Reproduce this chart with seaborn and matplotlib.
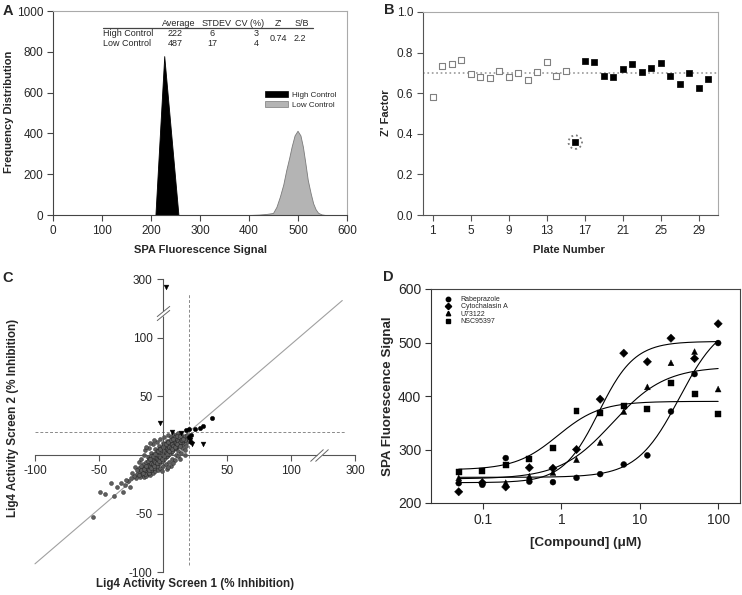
"""
Four-panel assay summary: control distributions, Z' per plate,
screen-vs-screen replicate scatter, and dose-response curves.
"""
import matplotlib
matplotlib.use("Agg")
import matplotlib.pyplot as plt
from matplotlib.lines import Line2D
from matplotlib.patches import Patch
from matplotlib.path import Path
import numpy as np
import pandas as pd
import seaborn as sns

W, H = 742, 595

# ---------------------------------------------------------------------------
# A: frequency distribution of the controls (outline)
HIGH_X = [209, 227, 256]
HIGH_Y = [0, 779, 0]
LOW_X = [400, 420, 435, 449, 456, 463, 470, 476, 482, 487, 493, 499,
         505, 510, 515, 520, 526, 531, 536, 541, 548, 556]
LOW_Y = [0, 2, 5, 10, 40, 90, 150, 220, 280, 335, 390, 413,
         390, 335, 255, 171, 105, 57, 28, 11, 3, 0]
TABLE_HEAD = ["Average", "STDEV", "CV (%)", "Z'", "S/B"]
TABLE_ROWS = [["High Control", "222", "6", "3"],
              ["Low Control", "487", "17", "4"]]
TABLE_SHARED = ["0.74", "2.2"]

# B: Z' factor per plate
PLATES_OPEN = list(range(1, 16))
Z_OPEN = [0.582, 0.736, 0.744, 0.764, 0.697, 0.682, 0.677, 0.710,
          0.682, 0.700, 0.667, 0.703, 0.752, 0.684, 0.710]
PLATES_FILL = list(range(16, 31))
Z_FILL = [0.359, 0.761, 0.752, 0.687, 0.682, 0.721, 0.743, 0.705,
          0.723, 0.749, 0.687, 0.644, 0.700, 0.625, 0.670]
Z_MEAN = 0.70
Z_OUTLIER_PLATE = 16

# C: screen 1 vs screen 2 (% inhibition), cloud of inactive compounds
CLOUD_X = [-20, -18, -17, -16, -15, -14, -13, -12, -12, -11, -10, -10, -9, -8, -8,
           -7, -6, -6, -5, -4, -4, -3, -2, -2, -1, 0, 0, 1, 2, 2, 3, 4, 4, 5, 6,
           6, 7, 8, 8, 9, 10, 10, 11, 12, 13, 14, 15, 16, 17, 18,
           -22, -19, -17, -15, -14, -12, -11, -9, -8, -6, -5, -3, -2, 0, 1, 3,
           4, 6, 8, 10, 12, 14, -13, -10, -7,
           -21, -18, -15, -13, -10, -8, -6, -4, -2, 0, 2, 3, 5, 6, 7, 9, 10, 12,
           12, 14, 15, 17, 16, 18, 19, 20, 19, -1, 4, 8, 13, 17,
           -16, -13, -11, -9, -7, -5, -3, -1, 1, 3, 5, 7, 9, 11, 13,
           -14, -11, -9, -7, -5, -3, -1, 1, 3, 5, 7, 9, 11, 13, 15, 17, -19, -17, -20,
           -19, -17, -16, -14, -13, -12, -11, -10, -9, -8, -7, -6, -5, -4, -3, -2,
           -1, 0, 1, 2, 3, 4, 5, 6, 7, 8, 9, 10, 11, 12, 13, 14, 15, 16,
           -15, -13, -11, -9, -7, -5, -3, -1, 1, 3, 5, 7, 9, 11, 13,
           -12, -10, -8, -6, -4, -2, 0, 2, 4, 6, 8,
           -23, -25, -24, -27, -29, -30, -33, -36, -41, -45, -49, -31, -55, -38, -26]
CLOUD_Y = [-16, -14, -17, -12, -15, -10, -13, -16, -8, -11, -6, -14, -9, -4, -12,
           -7, -2, -10, -5, 0, -8, -3, 2, -6, -1, 4, -4, 1, 6, -2, 3, 8, 0, 5, 10,
           2, 7, 12, 4, 9, 14, 6, 11, 8, 13, 10, 15, 12, 16, 14,
           -10, -6, -3, 0, 4, -2, 6, 2, 9, 5, 11, 8, 14, 10, 15, 12,
           17, 15, 18, 17, 19, 18, 7, 10, 13,
           -20, -19, -19, -18, -17, -15, -14, -13, -11, -9, -8, -12, -6, -9, -3, -4, 0, -1,
           3, 2, 6, 4, 9, 8, 11, 13, 17, -14, -10, -7, -3, 0,
           -8, -6, -3, -1, 1, 3, 5, 7, 9, 10, 12, 14, 15, 16, 16,
           -16, -15, -13, -11, -9, -7, -5, -3, -1, 1, 3, 6, 8, 10, 11, 13, -11, -9, -13,
           -17, -13, -15, -13, -11, -12, -9, -10, -7, -8, -5, -6, -3, -4, -1, -2,
           1, 0, 3, 2, 5, 4, 7, 6, 9, 8, 11, 10, 13, 12, 11, 13, 13, 14,
           -12, -9, -13, -11, -9, -7, -5, -3, -1, 1, 3, 5, 7, 9, 8,
           -5, -3, -1, 1, 3, 5, 7, 9, 11, 13, 14,
           -18, -20, -15, -22, -21, -26, -24, -27, -24, -33, -32, -32, -53, -35, -27]
HIT_TRI_X = [-2, 7, 14, 21, 23, 31, 2]
HIT_TRI_Y = [27, 20, 19, 13, 9, 9, 260]
HIT_DOT_X = [18, 20, 22, 25, 29, 31, 38, 20, 22]
HIT_DOT_Y = [21, 22, 17, 22, 23, 25, 32, 15, 11]
HIT_CUTOFF = 20
C_TICKS = [-100, -50, 50, 100, 300]
DIAG_X = [-100, 240]
DIAG_Y = [-93, 192]
GUIDE_END = [252, 228]          # far ends of the horizontal / vertical cutoff lines

# D: dose response (uM) and four-parameter fits (bottom, top, EC50, hill)
CONC = [0.049, 0.098, 0.195, 0.39, 0.78, 1.56, 3.125, 6.25, 12.5, 25, 50, 100]
COMPOUNDS = ["Rabeprazole", "Cytochalasin A", "U73122", "NSC95397"]
RABEPRAZOLE = [237, 234, 284, 240, 239, 247, 254, 272, 289, 371, 441, 499]
CYTOCHALASIN = [221, 238, 230, 266, 265, 300, 394, 480, 464, 508, 470, 535]
U73122 = [247, 240, 238, 250, 257, 281, 313, 371, 417, 462, 483, 413]
NSC95397 = [258, 260, 271, 282, 302, 372, 369, 382, 376, 424, 403, 366]
MARKERS = ["o", "D", "^", "s"]
FITS = [(248, 545, 32, 1.6), (238, 502, 3.0, 1.9),
        (245, 455, 4.5, 1.3), (262, 390, 0.9, 1.6)]

# ---------------------------------------------------------------------------
BOX_A = (53, 11, 347, 215)
BOX_B = (423, 12, 718, 215)
BOX_C = (25, 270, 365, 585)
BOX_D = (431, 289, 740, 503)


def axes_at(fig, box):
    l, t, r, b = box
    return fig.add_axes([l / W, 1 - b / H, (r - l) / W, (b - t) / H])


def px_to_ax(box, px, py):
    l, t, r, b = box
    return (px - l) / (r - l), (b - py) / (b - t)


def place_labels(ax, box, xlab, ylab, xpos, ypos, size):
    ax.set_xlabel(xlab, fontsize=size, fontweight="bold", va="center")
    ax.set_ylabel(ylab, fontsize=size, fontweight="bold", va="center")
    ax.xaxis.set_label_coords(*px_to_ax(box, *xpos))
    ax.yaxis.set_label_coords(*px_to_ax(box, *ypos))


def style_spines(ax, main="#444444", frame="#aaaaaa"):
    for side in ("left", "bottom"):
        ax.spines[side].set_color(main)
        ax.spines[side].set_linewidth(0.8)
    for side in ("top", "right"):
        ax.spines[side].set_visible(True)
        ax.spines[side].set_color(frame)
        ax.spines[side].set_linewidth(0.8)
    ax.tick_params(direction="out", length=4, width=0.8, color=main, pad=3)


sns.set_theme(style="ticks")
plt.rcParams["font.family"] = ["Liberation Sans", "DejaVu Sans"]
plt.rcParams["axes.unicode_minus"] = False

fig = plt.figure(figsize=(W / 100, H / 100), dpi=100)

# ---------------------------------------------------------------- panel A
ax = axes_at(fig, BOX_A)
ax.fill_between(HIGH_X, HIGH_Y, color="black", lw=0.6, label="High Control")
ax.fill_between(LOW_X, LOW_Y, color="#b4b4b4", edgecolor="#7a7a7a", lw=0.6,
                label="Low Control")
ax.set_xlim(0, 600)
ax.set_ylim(0, 1000)
ax.set_xticks(range(0, 601, 100))
ax.set_yticks(range(0, 1001, 200))
ax.tick_params(labelsize=8.5)
style_spines(ax)
place_labels(ax, BOX_A, "SPA Fluorescence Signal", "Frequency Distribution",
             (200, 250), (9, 112), 8)
ax.legend(handles=[Patch(facecolor="black", edgecolor="black", lw=0.5, label="High Control"),
                   Patch(facecolor="#b4b4b4", edgecolor="#7a7a7a", lw=0.5, label="Low Control")],
          loc="upper left", bbox_to_anchor=px_to_ax(BOX_A, 265, 91), frameon=False,
          fontsize=5.8, handlelength=2.8, handleheight=0.8, labelspacing=0.3,
          handletextpad=0.5, borderpad=0, borderaxespad=0)

# the little statistics table
head_x = [179, 217, 250, 278, 302]
for txt, px in zip(TABLE_HEAD, head_x):
    ax.text(*px_to_ax(BOX_A, px, 23), txt, transform=ax.transAxes,
            ha="center", va="center", fontsize=6.5)
ax.plot([px_to_ax(BOX_A, 103, 0)[0], px_to_ax(BOX_A, 313, 0)[0]],
        [px_to_ax(BOX_A, 0, 27.5)[1]] * 2, transform=ax.transAxes,
        color="#444444", lw=0.9, clip_on=False)
row_x = [175, 212, 256]
for row, py in zip(TABLE_ROWS, [34, 43]):
    ax.text(*px_to_ax(BOX_A, 103, py), row[0], transform=ax.transAxes,
            ha="left", va="center", fontsize=6.5)
    for txt, px in zip(row[1:], row_x):
        ax.text(*px_to_ax(BOX_A, px, py), txt, transform=ax.transAxes,
                ha="center", va="center", fontsize=6.5)
for txt, px in zip(TABLE_SHARED, [278, 300]):
    ax.text(*px_to_ax(BOX_A, px, 38.5), txt, transform=ax.transAxes,
            ha="center", va="center", fontsize=6.5)

# ---------------------------------------------------------------- panel B
ax = axes_at(fig, BOX_B)
ax.axhline(Z_MEAN, color="#9a9a9a", lw=1.2, ls=":", zorder=1)
sns.scatterplot(x=PLATES_OPEN, y=Z_OPEN, marker="s", s=20, facecolor="white",
                edgecolor="#808080", linewidth=0.8, ax=ax, zorder=3)
sns.scatterplot(x=PLATES_FILL, y=Z_FILL, marker="s", s=20, color="black",
                edgecolor="black", linewidth=0.5, ax=ax, zorder=3)
ax.scatter([Z_OUTLIER_PLATE], [Z_FILL[PLATES_FILL.index(Z_OUTLIER_PLATE)]], s=95,
           facecolors="none", edgecolors="#7a7a7a", linewidths=1.3,
           linestyles=(0, (1, 1.6)), zorder=2)
ax.set_xlim(0, 31)
ax.set_ylim(0, 1.0)
ax.set_xticks(range(1, 31, 4))
ax.set_yticks(np.arange(0, 1.01, 0.2))
ax.tick_params(labelsize=8.5)
style_spines(ax, main="#555555")
place_labels(ax, BOX_B, "Plate Number", "Z' Factor", (569, 250), (386, 113), 8)

# ---------------------------------------------------------------- panel C
BREAK_AT, SQUEEZE = 120, 0.167


def fwd(v):
    v = np.asarray(v, dtype=float)
    return np.where(v > BREAK_AT, BREAK_AT + (v - BREAK_AT) * SQUEEZE, v)


def inv(v):
    v = np.asarray(v, dtype=float)
    return np.where(v > BREAK_AT, BREAK_AT + (v - BREAK_AT) / SQUEEZE, v)


ax = axes_at(fig, BOX_C)
ax.set_xscale("function", functions=(fwd, inv))
ax.set_yscale("function", functions=(fwd, inv))
ax.set_xlim(-107.8, float(inv(157.8)))
ax.set_ylim(-111.1, float(inv(158.1)))

ax.plot(DIAG_X, DIAG_Y, color="#a0a0a0", lw=0.8, zorder=1)
ax.plot([-100, GUIDE_END[0]], [HIT_CUTOFF] * 2, color="#8a8a8a", lw=0.7,
        dashes=(3, 2), zorder=1)
ax.plot([HIT_CUTOFF] * 2, [-94, GUIDE_END[1]], color="#8a8a8a", lw=0.7,
        dashes=(3, 2), zorder=1)

cloud = pd.DataFrame({"screen1": CLOUD_X, "screen2": CLOUD_Y})
sns.scatterplot(data=cloud, x="screen1", y="screen2", s=8, color="#5e5e5e",
                edgecolor="#1e1e1e", linewidth=0.3, ax=ax, zorder=2)
sns.scatterplot(x=HIT_TRI_X, y=HIT_TRI_Y, marker="v", s=12, color="black",
                edgecolor="black", linewidth=0.3, ax=ax, zorder=3, clip_on=False)
sns.scatterplot(x=HIT_DOT_X, y=HIT_DOT_Y, marker="o", s=10, color="black",
                edgecolor="black", linewidth=0.3, ax=ax, zorder=3)

for side in ("top", "right"):
    ax.spines[side].set_visible(False)
for side in ("left", "bottom"):
    ax.spines[side].set_position(("data", 0))
    ax.spines[side].set_bounds(-100, 300)
    ax.spines[side].set_color("#555555")
    ax.spines[side].set_linewidth(0.8)
ax.minorticks_off()
ax.set_xticks(C_TICKS)
ax.set_yticks(C_TICKS)
ax.set_xticklabels([str(t) for t in C_TICKS])
ax.set_yticklabels([str(t) for t in C_TICKS])
ax.tick_params(direction="out", length=4, width=0.8, color="#555555", labelsize=8.5)

# axis breaks: white gap plus double slash
brk = float(inv(121.5))
gap_h = Path([(-2.5, 0), (2.5, 0)])
gap_v = Path([(0, -2.5), (0, 2.5)])
slash_h = Path([(-9, -6), (4, 6), (-4, -6), (9, 6)],
               [Path.MOVETO, Path.LINETO, Path.MOVETO, Path.LINETO])
slash_v = Path([(-6.5, -7.3), (6.5, 3.3), (-6.5, -3.3), (6.5, 7.3)],
               [Path.MOVETO, Path.LINETO, Path.MOVETO, Path.LINETO])
ax.plot([brk], [0], marker=gap_h, ms=3.6, mew=2.5, mec="white", ls="none",
        clip_on=False, zorder=4)
ax.plot([0], [brk], marker=gap_v, ms=3.6, mew=2.5, mec="white", ls="none",
        clip_on=False, zorder=4)
ax.plot([brk], [0], marker=slash_h, ms=13, mew=0.7, mec="#666666", mfc="none",
        ls="none", clip_on=False, zorder=5)
ax.plot([0], [brk], marker=slash_v, ms=10.5, mew=0.7, mec="#666666", mfc="none",
        ls="none", clip_on=False, zorder=5)
place_labels(ax, BOX_C, "Lig4 Activity Screen 1 (% Inhibition)",
             "Lig4 Activity Screen 2 (% Inhibition)", (195, 584), (13, 418), 8.4)

# ---------------------------------------------------------------- panel D
ax = axes_at(fig, BOX_D)
ax.set_xscale("log")
dose = pd.DataFrame({
    "conc": CONC * 4,
    "signal": RABEPRAZOLE + CYTOCHALASIN + U73122 + NSC95397,
    "compound": [c for c in COMPOUNDS for _ in CONC],
})
sns.scatterplot(data=dose, x="conc", y="signal", style="compound",
                markers=dict(zip(COMPOUNDS, MARKERS)), s=18, color="black",
                edgecolor="black", linewidth=0.3, legend=False, ax=ax, zorder=3)
xs = np.geomspace(min(CONC), max(CONC), 200)
for bottom, top, ec50, hill in FITS:
    ys = bottom + (top - bottom) / (1 + (ec50 / xs) ** hill)
    sns.lineplot(x=xs, y=ys, color="black", lw=0.8, ax=ax, zorder=2)
ax.set_xlim(0.0217, 190)
ax.set_ylim(200, 600)
ax.minorticks_off()
ax.set_xticks([0.1, 1, 10, 100])
ax.set_xticklabels(["0.1", "1", "10", "100"])
ax.set_yticks(range(200, 601, 100))
ax.tick_params(labelsize=10)
style_spines(ax, main="#333333", frame="#444444")
place_labels(ax, BOX_D, "[Compound] (\u03bcM)", "SPA Fluorescence Signal",
             (586, 543), (388, 396), 9.6)
ax.legend(handles=[Line2D([], [], marker=m, ls="none", color="black", ms=3.2, label=c)
                   for c, m in zip(COMPOUNDS, MARKERS)],
          loc="upper left", bbox_to_anchor=px_to_ax(BOX_D, 444, 296), frameon=False,
          fontsize=5, labelspacing=0.05, handlelength=1.2, handletextpad=1.2,
          borderpad=0, borderaxespad=0)

# ---------------------------------------------------------------- panel letters
for letter, (px, py) in zip("ABCD", [(8, 11), (389, 10), (8, 278), (388, 277)]):
    fig.text(px / W, 1 - py / H, letter, fontsize=10.5, fontweight="bold",
             ha="center", va="center")

fig.savefig("out.png", dpi=100)
